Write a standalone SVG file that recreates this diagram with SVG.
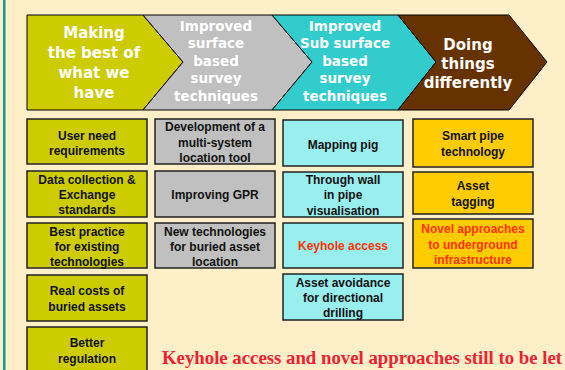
<svg xmlns="http://www.w3.org/2000/svg" width="565" height="370" viewBox="0 0 565 370">
<style>
.chev{stroke:#000;stroke-width:1}
.ct{font-family:"DejaVu Sans",Verdana,sans-serif;font-weight:bold;fill:#fff;text-anchor:middle}
.box{stroke:#222;stroke-width:1.5}
.bt{font-family:"Liberation Sans",Arial,sans-serif;font-weight:bold;font-size:12px;fill:#111;text-anchor:middle}
.red{fill:#ff3300}
.y{fill:#cccc00}.g{fill:#c0c0c0}.c{fill:#99eeee}.o{fill:#ffcc00}
</style>
<rect x="0" y="0" width="565" height="370" fill="#fdefc8"/>
<rect x="3" y="0" width="2.5" height="370" fill="#129a9a"/>
<g id="chevron-making">
<polygon class="chev" fill="#cccc00" points="27,15 143,15 183,62 143,110 27,110"/>
<text class="ct" font-size="15" x="94" y="38">Making</text>
<text class="ct" font-size="15" x="94" y="58">the best of</text>
<text class="ct" font-size="15" x="94" y="78">what we</text>
<text class="ct" font-size="15" x="94" y="98">have</text>
</g>
<g id="chevron-surface">
<polygon class="chev" fill="#c0c0c0" points="143,15 272,15 312,62 272,110 143,110 183,62"/>
<text class="ct" font-size="13.5" x="216" y="31">Improved</text>
<text class="ct" font-size="13.5" x="216" y="48">surface</text>
<text class="ct" font-size="13.5" x="216" y="66">based</text>
<text class="ct" font-size="13.5" x="216" y="83">survey</text>
<text class="ct" font-size="13.5" x="216" y="101">techniques</text>
</g>
<g id="chevron-subsurface">
<polygon class="chev" fill="#33cccc" points="272,15 398,15 436,62 398,110 272,110 312,62"/>
<text class="ct" font-size="13.5" x="345" y="31">Improved</text>
<text class="ct" font-size="13.5" x="345" y="48">Sub surface</text>
<text class="ct" font-size="13.5" x="345" y="66">based</text>
<text class="ct" font-size="13.5" x="345" y="83">survey</text>
<text class="ct" font-size="13.5" x="345" y="101">techniques</text>
</g>
<g id="chevron-differently">
<polygon class="chev" fill="#663300" points="398,15 509,15 547,62 509,110 398,110 436,62"/>
<text class="ct" font-size="15" x="468" y="50">Doing</text>
<text class="ct" font-size="15" x="468" y="69">things</text>
<text class="ct" font-size="15" x="468" y="88">differently</text>
</g>
<g id="connectors"></g>
<g id="user-need">
<rect class="box y" x="27" y="119" width="120" height="45"/>
<text class="bt" x="87" y="140">User need</text>
<text class="bt" x="87" y="155">requirements</text>
</g>
<g id="data-collection">
<rect class="box y" x="27" y="171" width="120" height="46"/>
<text class="bt" x="87" y="184">Data collection &amp;</text>
<text class="bt" x="87" y="199">Exchange</text>
<text class="bt" x="87" y="214">standards</text>
</g>
<g id="best-practice">
<rect class="box y" x="27" y="223" width="120" height="45"/>
<text class="bt" x="87" y="236">Best practice</text>
<text class="bt" x="87" y="251">for existing</text>
<text class="bt" x="87" y="266">technologies</text>
</g>
<g id="real-costs">
<rect class="box y" x="27" y="275" width="120" height="46"/>
<text class="bt" x="87" y="295">Real costs of</text>
<text class="bt" x="87" y="311">buried assets</text>
</g>
<g id="better-regulation">
<rect class="box y" x="27" y="327" width="120" height="50"/>
<text class="bt" x="87" y="347">Better</text>
<text class="bt" x="87" y="363">regulation</text>
</g>
<g id="multi-system">
<rect class="box g" x="155" y="119" width="120" height="45"/>
<text class="bt" x="215" y="131">Development of a</text>
<text class="bt" x="215" y="147">multi-system</text>
<text class="bt" x="215" y="162">location tool</text>
</g>
<g id="improving-gpr">
<rect class="box g" x="155" y="171" width="120" height="46"/>
<text class="bt" x="215" y="199">Improving GPR</text>
</g>
<g id="new-technologies">
<rect class="box g" x="155" y="223" width="120" height="45"/>
<text class="bt" x="215" y="236">New technologies</text>
<text class="bt" x="215" y="251">for buried asset</text>
<text class="bt" x="215" y="266">location</text>
</g>
<g id="mapping-pig">
<rect class="box c" x="283" y="120" width="120" height="46"/>
<text class="bt" x="343" y="149">Mapping pig</text>
</g>
<g id="through-wall">
<rect class="box c" x="283" y="172" width="120" height="45"/>
<text class="bt" x="343" y="184">Through wall</text>
<text class="bt" x="343" y="199">in pipe</text>
<text class="bt" x="343" y="215">visualisation</text>
</g>
<g id="keyhole-access">
<rect class="box c" x="283" y="223" width="120" height="45"/>
<text class="bt red" x="343" y="250">Keyhole access</text>
</g>
<g id="asset-avoidance">
<rect class="box c" x="283" y="274" width="120" height="46"/>
<text class="bt" x="343" y="287">Asset avoidance</text>
<text class="bt" x="343" y="302">for directional</text>
<text class="bt" x="343" y="317">drilling</text>
</g>
<g id="smart-pipe">
<rect class="box o" x="413" y="119" width="120" height="48"/>
<text class="bt" x="473" y="140">Smart pipe</text>
<text class="bt" x="473" y="156">technology</text>
</g>
<g id="asset-tagging">
<rect class="box o" x="413" y="172" width="120" height="42"/>
<text class="bt" x="473" y="190">Asset</text>
<text class="bt" x="473" y="206">tagging</text>
</g>
<g id="novel-approaches">
<rect class="box o" x="413" y="219" width="120" height="49"/>
<text class="bt red" x="473" y="233">Novel approaches</text>
<text class="bt red" x="473" y="249">to underground</text>
<text class="bt red" x="473" y="264">infrastructure</text>
</g>
<text x="162" y="364" font-family="'Liberation Serif','Times New Roman',serif" font-weight="bold" font-size="18.5" textLength="400" lengthAdjust="spacingAndGlyphs" fill="#ee2233">Keyhole access and novel approaches still to be let</text>
</svg>
